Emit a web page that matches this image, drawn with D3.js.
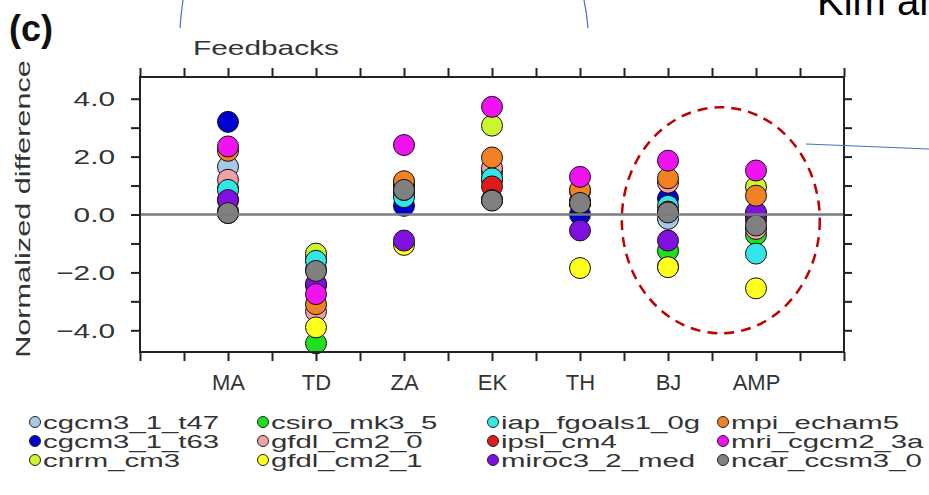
<!DOCTYPE html>
<html lang="en">
<head>
<meta charset="UTF-8">
<title>Feedbacks - normalized difference</title>
<style>
    body {
        margin: 0;
        padding: 0;
        background-color: #fff;
        overflow: hidden;
    }
    svg text {
        font-family: "Liberation Sans", Arial, sans-serif;
        fill: #333;
    }
</style>
</head>
<body>
<div id="chart"></div>
<script src="https://d3js.org/d3.v7.min.js"></script>
<script>
    // feedback categories on the x axis
    const categories = ["MA", "TD", "ZA", "EK", "TH", "BJ", "AMP"];

    const modelNames = [
        "cgcm3_1_t47", "cgcm3_1_t63", "cnrm_cm3",
        "csiro_mk3_5", "gfdl_cm2_0", "gfdl_cm2_1",
        "iap_fgoals1_0g", "ipsl_cm4", "miroc3_2_med",
        "mpi_echam5", "mri_cgcm2_3a", "ncar_ccsm3_0"
    ];

    // normalized difference per model, same order as categories
    const cgcm3_1_t47    = [1.65, -1.55,  0.70, 1.45,  0.40, -0.15, -0.20];
    const cgcm3_1_t63    = [3.20, -1.90,  0.30, 0.50,  0.00,  0.55,  0.00];
    const cnrm_cm3       = [0.90, -1.35,  1.00, 3.07,  0.40, -1.80,  0.95];
    const csiro_mk3_5    = [0.50, -4.45,  0.90, 1.20,  0.40, -1.25, -0.70];
    const gfdl_cm2_0     = [1.20, -3.35,  1.10, 1.60,  0.80,  1.10, -0.50];
    const gfdl_cm2_1     = [0.05, -3.90, -1.05, 0.50, -1.85, -1.82, -2.55];
    const iap_fgoals1_0g = [0.85, -1.60,  0.60, 1.25,  0.40,  0.30, -1.35];
    const ipsl_cm4       = [0.10, -2.45,  0.85, 0.97,  0.45,  0.10, -0.10];
    const miroc3_2_med   = [0.50, -2.40, -0.90, 0.50, -0.55, -0.90,  0.07];
    const mpi_echam5     = [2.20, -3.10,  1.15, 1.97,  0.85,  1.25,  0.65];
    const mri_cgcm2_3a   = [2.35, -2.75,  2.40, 3.72,  1.30,  1.86,  1.52];
    const ncar_ccsm3_0   = [0.05, -1.95,  0.85, 0.48,  0.40,  0.07, -0.38];

    const yTicks = [-4, -3, -2, -1, 0, 1, 2, 3, 4];

    const modelValues = [cgcm3_1_t47, cgcm3_1_t63, cnrm_cm3, csiro_mk3_5, gfdl_cm2_0, gfdl_cm2_1,
        iap_fgoals1_0g, ipsl_cm4, miroc3_2_med, mpi_echam5, mri_cgcm2_3a, ncar_ccsm3_0];

    const modelColors = ["#a9c8e6", "#0000d0", "#cdf52e", "#1ee01e", "#f2a0a6", "#ffff1e",
        "#32e6e6", "#e01a1a", "#8010e0", "#f08224", "#f012f0", "#808080"];

    const width = 929, height = 495;
    const svg = d3.select("#chart").append("svg")
        .attr("width", width)
        .attr("height", height);

    const x = d3.scaleLinear().domain([0, 8]).range([140, 844]);
    const y = d3.scaleLinear().domain([-4.75, 4.75]).range([352, 77]);

    // NCL text is wider than Liberation Sans, stretch it a bit
    function stretch(sel, k) {
        sel.each(function () {
            const w = this.getComputedTextLength();
            d3.select(this).attr("textLength", w * k).attr("lengthAdjust", "spacingAndGlyphs");
        });
    }

    // flatten into points, drawn in legend order
    const points = [];
    modelValues.forEach((vals, m) => {
        vals.forEach((v, c) => points.push({ model: m, cat: c, value: v }));
    });

    svg.append("g")
        .selectAll("circle")
        .data(points)
        .enter().append("circle")
        .attr("cx", d => x(d.cat + 1))
        .attr("cy", d => y(d.value))
        .attr("r", 10.5)
        .attr("fill", d => modelColors[d.model])
        .attr("stroke", "#111")
        .attr("stroke-width", 1);

    // zero line
    svg.append("line")
        .attr("x1", x(0)).attr("x2", x(8))
        .attr("y1", y(0)).attr("y2", y(0))
        .attr("stroke", "#7a7a7a")
        .attr("stroke-width", 2.5);

    // axes
    const halfSteps = d3.range(0, 8.01, 0.5);
    const fmt = d3.format(".1f");

    const gLeft = svg.append("g").attr("transform", `translate(${x(0)},0)`)
        .call(d3.axisLeft(y).tickValues(yTicks).tickSize(9).tickPadding(16)
            .tickFormat(d => d % 2 === 0 ? fmt(d) : ""));
    const gRight = svg.append("g").attr("transform", `translate(${x(8)},0)`)
        .call(d3.axisRight(y).tickValues(yTicks).tickSize(8).tickFormat(""));
    const gTop = svg.append("g").attr("transform", `translate(0,${y(4.75)})`)
        .call(d3.axisTop(x).tickValues(halfSteps).tickSize(9).tickFormat(""));
    const gBottom = svg.append("g").attr("transform", `translate(0,${y(-4.75)})`)
        .call(d3.axisBottom(x).tickValues(halfSteps).tickSize(9).tickPadding(13)
            .tickFormat(d => Number.isInteger(d) && d >= 1 && d <= 7 ? categories[d - 1] : ""));

    [gLeft, gRight, gTop, gBottom].forEach(g => {
        g.select(".domain").remove();
        g.selectAll(".tick line").attr("stroke", "#222").attr("stroke-width", 2);
        g.selectAll(".tick text").attr("fill", "#333");
    });
    gLeft.selectAll(".tick text").style("font-size", "21px");
    stretch(gLeft.selectAll(".tick text"), 1.42);
    gBottom.selectAll(".tick text").style("font-size", "22px");

    // frame
    svg.append("rect")
        .attr("x", x(0)).attr("y", y(4.75))
        .attr("width", x(8) - x(0)).attr("height", y(-4.75) - y(4.75))
        .attr("fill", "none")
        .attr("stroke", "#222")
        .attr("stroke-width", 2);

    // labels
    svg.append("text")
        .attr("x", 9).attr("y", 41)
        .style("font-size", "36px").style("font-weight", "bold")
        .style("fill", "#111")
        .text("(c)");

    const feed = svg.append("text")
        .attr("x", 193).attr("y", 55)
        .style("font-size", "21px")
        .text("Feedbacks");
    stretch(feed, 1.42);

    const yLab = svg.append("text")
        .attr("transform", `translate(30,209) rotate(-90)`)
        .attr("text-anchor", "middle")
        .style("font-size", "21px")
        .text("Normalized difference");
    stretch(yLab, 1.46);

    // legend, 4 columns x 3 rows
    const legCols = [35, 263, 493, 723];
    const legRows = [422, 441, 460];
    const leg = svg.append("g")
        .selectAll("g")
        .data(modelNames)
        .enter().append("g")
        .attr("transform", (d, i) => `translate(${legCols[Math.floor(i / 3)]},${legRows[i % 3]})`);
    leg.append("circle")
        .attr("r", 5.5)
        .attr("fill", (d, i) => modelColors[i])
        .attr("stroke", "#222")
        .attr("stroke-width", 1);
    const legText = leg.append("text")
        .attr("x", 8).attr("y", 7)
        .style("font-size", "18px")
        .text(d => d);
    stretch(legText, 1.63);

    // slide annotations
    svg.append("ellipse")
        .attr("cx", x(6.6)).attr("cy", y(-0.2))
        .attr("rx", 99).attr("ry", 113)
        .attr("fill", "none")
        .attr("stroke", "#c00000")
        .attr("stroke-width", 2.5)
        .attr("stroke-dasharray", "10 7");

    svg.append("path")
        .attr("d", "M183,0 Q181,14 180,28")
        .attr("fill", "none").attr("stroke", "#4472c4").attr("stroke-width", 1.2);
    svg.append("path")
        .attr("d", "M584,0 Q587,14 588,28")
        .attr("fill", "none").attr("stroke", "#4472c4").attr("stroke-width", 1.2);
    svg.append("line")
        .attr("x1", 806).attr("y1", 144).attr("x2", 929).attr("y2", 149)
        .attr("stroke", "#4472c4").attr("stroke-width", 1.2);

    svg.append("text")
        .attr("x", 817).attr("y", 15)
        .style("font-size", "40px")
        .style("fill", "#000")
        .text("Kim an");
</script>
</body>
</html>
